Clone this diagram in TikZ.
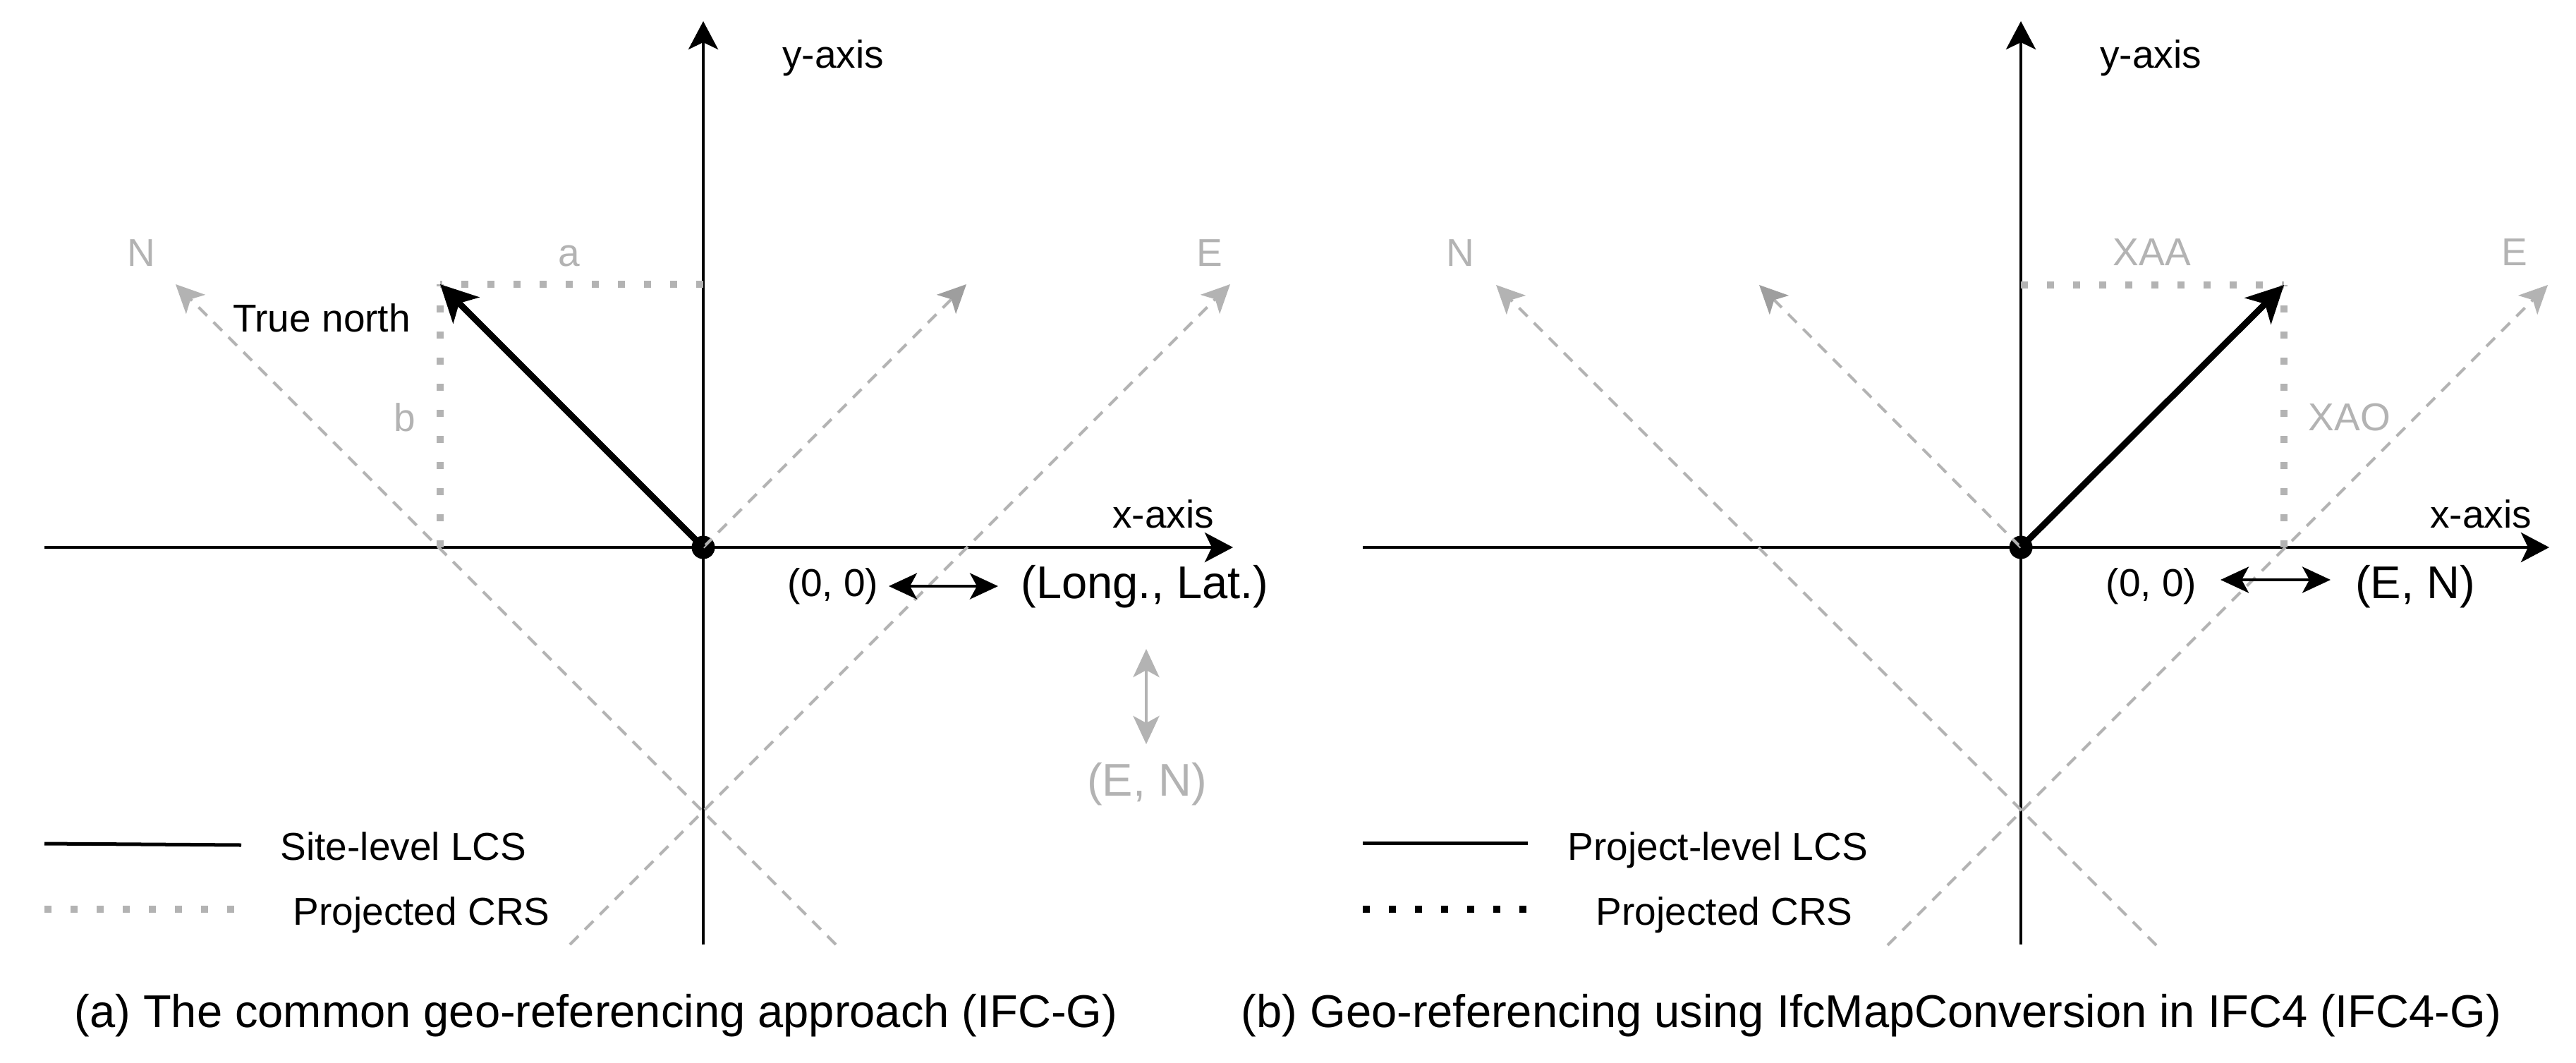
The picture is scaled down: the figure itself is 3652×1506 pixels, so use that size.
\documentclass[tikz,border=0pt]{standalone}
\usepackage{fontspec}
\setmainfont{Liberation Sans}
\usetikzlibrary{arrows.meta}
\definecolor{lg}{HTML}{B3B3B3}
\definecolor{mg}{HTML}{9E9E9E}
\begin{document}
\begin{tikzpicture}[x=0.01cm,y=-0.01cm,
  axis/.style={line width=0.045cm,-{Stealth[length=0.4cm,width=0.42cm,inset=0.1cm]}},
  vec/.style={line width=0.09cm,-{Stealth[length=0.52cm,width=0.52cm,inset=0.14cm]}},
  crs/.style={draw=lg,line width=0.04cm,dash pattern=on 0.17cm off 0.13cm,-{Stealth[length=0.4cm,width=0.38cm,inset=0.1cm,color=lg]}},
  crsb/.style={draw=lg,line width=0.04cm,dash pattern=on 0.17cm off 0.13cm,-{Stealth[length=0.4cm,width=0.38cm,inset=0.1cm,color=mg]}},
  dotl/.style={draw=lg,line width=0.1cm,dash pattern=on 0.1cm off 0.27cm},
  dotk/.style={draw=black,line width=0.1cm,dash pattern=on 0.1cm off 0.27cm},
  dbl/.style={line width=0.04cm,{Stealth[length=0.4cm,width=0.37cm,inset=0.1cm]}-{Stealth[length=0.4cm,width=0.37cm,inset=0.1cm]}},
  dblg/.style={draw=lg,line width=0.04cm,{Stealth[length=0.4cm,width=0.37cm,inset=0.1cm,color=lg]}-{Stealth[length=0.4cm,width=0.37cm,inset=0.1cm,color=lg]}},
  lbl/.style={font=\fontsize{15.65}{18}\selectfont,inner sep=0pt},
  glbl/.style={lbl,text=lg},
  big/.style={font=\fontsize{18.5}{22}\selectfont,inner sep=0pt},
  gbig/.style={big,text=lg},
  dot/.style={circle,fill=black,inner sep=0pt,minimum size=0.33cm}]
\useasboundingbox[fill=white] (0,0) rectangle (3652,1506);

% ---------------- left panel ----------------
\coordinate (Lyt) at (997,30);
\coordinate (Lyb) at (997,1339);
\coordinate (Lxl) at (63,776);
\coordinate (Lxr) at (1748,776);
\draw[axis] (Lyb) -- (Lyt);
\draw[axis] (Lxl) -- (Lxr);
\node[dot] (O1) at (997,776) {};
\coordinate (LNt) at (249,403);
\coordinate (LNb) at (1185,1339);
\coordinate (LEt) at (1744,403);
\coordinate (LEb) at (808,1339);
\coordinate (LEs) at (1370,403);
\coordinate (Ltn) at (624,403);
\draw[crs] (LNb) -- (LNt);
\draw[crs] (LEb) -- (LEt);
\draw[crsb] (O1.center) -- (LEs);
\draw[dotl] (Ltn -| O1) -- (Ltn);
\draw[dotl] (Ltn |- O1) -- (Ltn);
\draw[vec] (O1.center) -- (Ltn);

\node[lbl,anchor=base] (Lylab) at (1181,97) {y-axis};
\node[lbl,anchor=base] (Lxlab) at (1649,748) {x-axis};
\node[glbl,anchor=base] (LNlab) at (200,377) {N};
\node[glbl,anchor=base] (LElab) at (1715,377) {E};
\node[glbl,anchor=base] (Lalab) at (807,377) {a};
\node[glbl,anchor=base] (Lblab) at (574,611) {b};
\node[lbl,anchor=base] (Ltnlab) at (456,470) {True north};
\node[lbl,anchor=base] (L00) at (1181,845) {(0, 0)};
\node[big,anchor=base] (LLL) at (1623,848) {(Long., Lat.)};
\node[gbig,anchor=base] (LEN) at (1626,1128) {(E, N)};
\coordinate (Lda) at (1260,831);
\coordinate (Ldb) at (1415,831);
\draw[dbl] (Lda) -- (Ldb);
\coordinate (Lga) at (1625,920);
\coordinate (Lgb) at (1625,1055);
\draw[dblg] (Lga) -- (Lgb);

% legend left
\coordinate (Lg1a) at (63,1196);
\coordinate (Lg1b) at (342,1198);
\draw[line width=0.05cm] (Lg1a) -- (Lg1b);
\node[lbl,anchor=base west] (Lg1t) at (397,1219) {Site-level LCS};
\coordinate (Lg2a) at (63,1289);
\coordinate (Lg2b) at (334,1289);
\draw[dotl] (Lg2a) -- (Lg2b);
\node[lbl,anchor=base west] (Lg2t) at (415,1311) {Projected CRS};

\node[big,anchor=base] (capa) at (845,1456) {(a) The common geo-referencing approach (IFC-G)};

% ---------------- right panel ----------------
\coordinate (Ryt) at (2865,30);
\coordinate (Ryb) at (2865,1339);
\coordinate (Rxl) at (1932,776);
\coordinate (Rxr) at (3614,776);
\draw[axis] (Ryb) -- (Ryt);
\draw[axis] (Rxl) -- (Rxr);
\node[dot] (O2) at (2865,776) {};
\coordinate (RNt) at (2121,404);
\coordinate (RNb) at (3057,1340);
\coordinate (REt) at (3612,404);
\coordinate (REb) at (2676,1340);
\coordinate (RNs) at (2494,404);
\coordinate (Rv) at (3238,404);
\draw[crs] (RNb) -- (RNt);
\draw[crs] (REb) -- (REt);
\draw[crsb] (O2.center) -- (RNs);
\draw[dotl] (Rv -| O2) -- (Rv);
\draw[dotl] (Rv |- O2) -- (Rv);
\draw[vec] (O2.center) -- (Rv);

\node[lbl,anchor=base] (Rylab) at (3049,97) {y-axis};
\node[lbl,anchor=base] (Rxlab) at (3517,748) {x-axis};
\node[glbl,anchor=base] (RNlab) at (2070,377) {N};
\node[glbl,anchor=base] (RElab) at (3565,376) {E};
\node[glbl,anchor=base] (RXAA) at (3051,376) {XAA};
\node[glbl,anchor=base] (RXAO) at (3331,610) {XAO};
\node[lbl,anchor=base] (R00) at (3050,845) {(0, 0)};
\node[big,anchor=base] (REN) at (3424,848) {(E, N)};
\coordinate (Rda) at (3148,822);
\coordinate (Rdb) at (3304,822);
\draw[dbl] (Rda) -- (Rdb);

% legend right
\coordinate (Rg1a) at (1932,1195);
\coordinate (Rg1b) at (2166,1195);
\draw[line width=0.05cm] (Rg1a) -- (Rg1b);
\node[lbl,anchor=base west] (Rg1t) at (2222,1219) {Project-level LCS};
\coordinate (Rg2a) at (1932,1289);
\coordinate (Rg2b) at (2166,1289);
\draw[dotk] (Rg2a) -- (Rg2b);
\node[lbl,anchor=base west] (Rg2t) at (2262,1311) {Projected CRS};

\node[big,anchor=base] (capb) at (2653,1456) {(b) Geo-referencing using IfcMapConversion in IFC4 (IFC4-G)};
\end{tikzpicture}
\end{document}
